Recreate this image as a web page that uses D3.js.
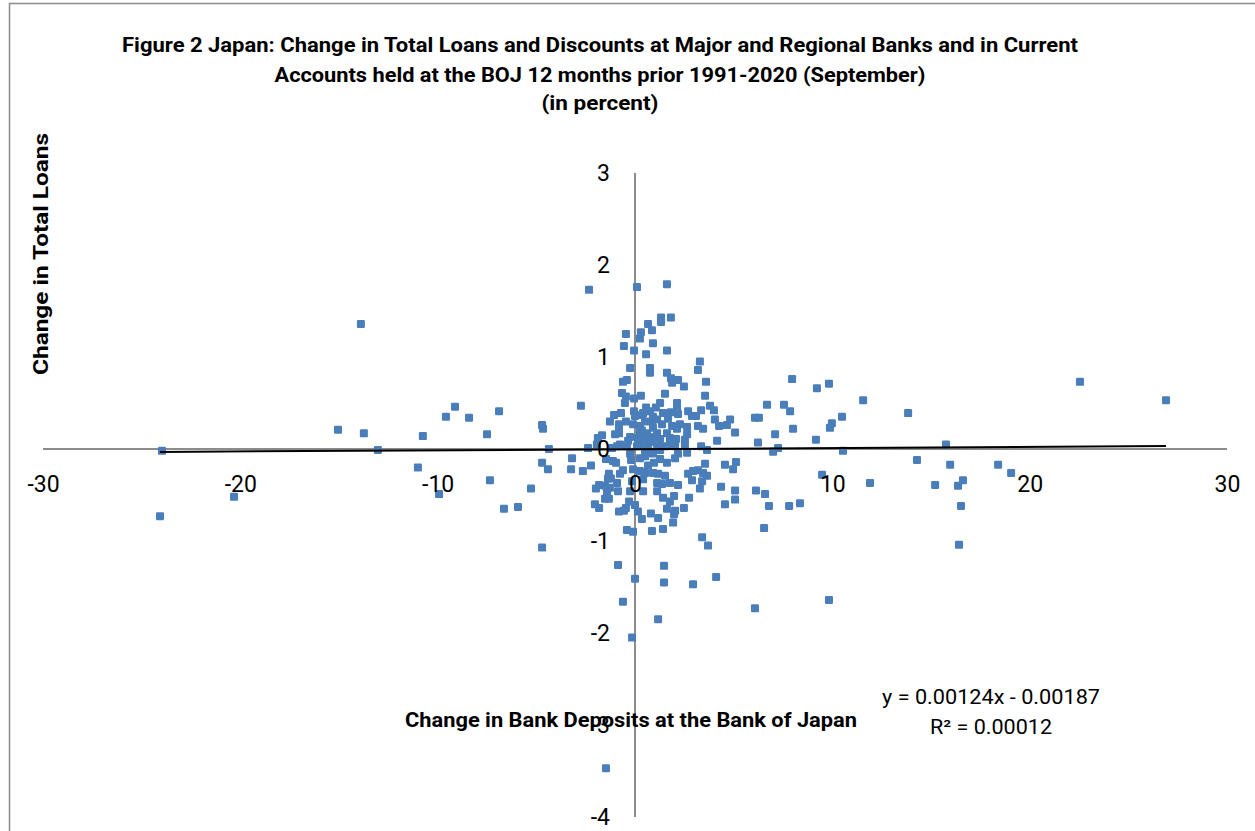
<!DOCTYPE html>
<html>
<head>
<meta charset="utf-8">
<script src="https://cdn.jsdelivr.net/npm/d3@7"></script>
<style>
  html, body { margin: 0; padding: 0; background: #fff; }
  svg { display: block; }
  text { font-family: "Roboto", "Liberation Sans", sans-serif; fill: #000; }
</style>
</head>
<body>
<svg id="chart" width="1255" height="831"></svg>
<script>
// ---- Data ----
const titleLines = [
  "Figure 2 Japan: Change in Total Loans and Discounts at Major and Regional Banks and in Current",
  "Accounts held at the BOJ 12 months prior 1991-2020 (September)",
  "(in percent)"
];
const xAxisTitle = "Change in Bank Deposits at the Bank of Japan";
const yAxisTitle = "Change in Total Loans";
const xTicks = [-30, -20, -10, 0, 10, 20, 30];
const yTicks = [-4, -3, -2, -1, 0, 1, 2, 3];
const trendSlope = 0.00124;
const trendIntercept = -0.00187;
const equationLines = ["y = 0.00124x - 0.00187", "R\u00B2 = 0.00012"];

// [change in deposits at BOJ, change in total loans]
const depositLoanPairs = [
  [-23.97,-0.02],[-24.07,-0.73],[-20.32,-0.52],[-15.05,0.21],[-13.89,1.36],[-13.74,0.17],[-13.03,-0.01],[-11.0,-0.20],[-10.75,0.14],[-9.93,-0.49],[-9.58,0.35],[-9.12,0.46],[-8.41,0.34],[-7.50,0.16],[-7.35,-0.34],[-6.89,0.41],[-6.64,-0.65],[-5.93,-0.63],[-5.27,-0.43],[-4.71,0.26],[-4.66,0.22],[-4.71,-0.15],[-4.41,-0.22],[-4.71,-1.07],[-4.36,0.0],[-3.19,-0.10],[-3.24,-0.22],[-2.74,0.47],[-2.64,-0.24],[-2.33,1.73],[-2.38,0.01],[-2.23,-0.18],
  [-1.98,-0.43],[-1.82,-0.39],[-1.88,0.12],[-1.67,0.15],[-1.93,0.05],[-1.47,-0.11],[-0.96,-0.15],[-1.32,-0.27],[-1.37,-0.32],[-1.22,-0.32],[-0.76,-0.27],[-0.61,-0.23],[-1.12,-0.13],[-1.52,-0.40],[-1.27,-0.42],[-1.42,-0.48],[-0.86,-0.46],[-0.91,-0.37],[-1.52,-0.54],[-1.32,-0.54],[-2.03,-0.60],[-1.82,-0.64],[-0.46,-0.64],[-0.56,-0.67],[-0.81,-0.68],[-0.30,-0.57],[-0.41,-0.88],[-0.10,-0.90],[-0.86,-1.26],[-0.61,-1.66],[-0.15,-2.05],[-1.47,-3.47],[-1.27,0.30],[-1.06,0.37],[-0.71,0.39],[-0.81,0.27],[-0.81,0.23],[-0.81,0.17],[-1.01,0.16],[-0.66,0.61],[-0.46,0.57],[-0.51,0.50],[-0.61,0.73],[-0.41,0.75],[-0.56,1.12],[-0.46,1.25],[-0.25,0.88],[-0.05,1.07],[-0.05,0.55],[-0.05,0.41],[-0.10,0.27],[-0.25,0.13],[-0.76,0.05],[-0.41,0.03],[-0.91,0.03],[-0.20,-0.12],[-0.25,-0.05],[-0.10,-0.22],[-0.25,-0.46],[0.0,-0.61],[0.15,-0.68],
  [0.10,1.76],[0.30,1.27],[0.25,1.20],[0.66,1.36],[0.86,1.29],[0.91,1.15],[0.56,1.03],[0.76,0.88],[0.76,0.83],[0.30,0.58],[0.56,0.45],[0.41,0.39],[0.76,0.41],[0.35,0.37],[0.91,0.35],[0.25,0.25],[0.51,0.30],[0.86,0.30],[1.12,0.32],[1.37,0.27],[0.91,0.23],[0.61,0.17],[0.25,0.17],[1.12,0.17],[0.15,0.12],[0.61,0.12],[0.41,0.09],[0.86,0.08],[1.27,0.11],[0.25,0.04],[0.66,0.05],[1.12,0.03],[1.52,0.03],[0.10,0.03],[1.77,0.05],[0.25,-0.10],[0.51,-0.08],[0.91,-0.05],[1.27,-0.11],[1.62,-0.15],[2.03,-0.10],[0.96,-0.15],[2.18,-0.05],[0.51,-0.26],[0.91,-0.26],[1.17,-0.27],[1.52,-0.29],[0.41,-0.33],[1.12,-0.37],[1.37,-0.38],[1.77,-0.37],[0.41,-0.46],[1.12,-0.46],[1.42,-0.53],[1.98,-0.51],[1.77,-0.57],[0.81,-0.70],[0.35,-0.76],[0.86,-0.89],[1.42,-0.87],[1.62,-0.65],[2.03,-0.67],[1.98,-0.71],[1.93,-0.80],[1.17,-0.75],[1.47,-1.27],[0.0,-1.41],[1.47,-1.45],[1.17,-1.85],[1.32,1.43],[1.32,1.38],[1.82,1.43],[1.62,1.79],[1.62,1.07],[1.62,0.83],[1.82,0.77],[1.88,0.72],[2.18,0.75],[1.52,0.60],[1.27,0.50],[1.06,0.45],[1.82,0.40],[1.88,0.25],[1.62,0.17],[1.77,0.12],[2.08,0.11],[2.13,0.50],[2.13,0.45],[2.18,0.38],[2.28,0.27],
  [2.48,0.68],[2.69,0.41],[2.89,0.36],[3.09,0.36],[2.64,0.24],[2.13,0.22],[3.19,0.25],[3.45,0.22],[2.64,0.16],[2.53,0.10],[2.53,0.04],[2.64,-0.04],[3.35,0.03],[3.65,-0.01],[4.16,0.09],[3.29,0.95],[3.19,0.86],[3.60,0.73],[3.55,0.58],[3.80,0.47],[4.00,0.42],[3.35,0.42],[4.05,0.32],[4.26,0.25],[4.66,0.26],[4.82,0.32],[5.07,0.18],[6.08,0.34],[6.28,0.34],[6.23,0.07],[6.69,0.48],[3.55,-0.16],[4.56,-0.17],[4.97,-0.22],[5.12,-0.14],[3.19,-0.23],[3.45,-0.26],[3.65,-0.29],[2.94,-0.24],[2.69,-0.27],[2.89,-0.34],[3.40,-0.35],[2.18,-0.39],[3.29,-0.43],[4.36,-0.41],[5.07,-0.45],[6.13,-0.45],[6.59,-0.49],[2.74,-0.53],[2.48,-0.64],[4.56,-0.60],[5.07,-0.55],[3.40,-0.96],[3.70,-1.05],[4.11,-1.39],[2.94,-1.47],[6.08,-1.73],[6.54,-0.86],[6.79,-0.62],[7.81,-0.62],[8.36,-0.59],[9.48,-0.28],[7.55,0.48],[7.86,0.41],[8.01,0.22],[7.10,0.16],[7.25,0.01],[7.00,-0.03],[7.96,0.76],[9.22,0.66],[9.83,0.71],[10.49,0.35],[9.98,0.28],[9.88,0.23],[9.17,0.10],[10.54,-0.02],[11.56,0.53],[11.91,-0.37],[13.84,0.39],[14.29,-0.12],[15.21,-0.39],[15.76,0.05],[15.97,-0.17],[16.37,-0.40],[16.62,-0.34],[16.52,-0.62],[16.42,-1.04],[18.40,-0.17],[19.06,-0.26],[22.55,0.73],[26.91,0.53],[9.83,-1.64],
  [-1.17,0.01],[0.51,-0.01],[1.27,-0.01],[-0.35,0.09],[1.01,0.13],[2.03,0.03],[0.35,0.20],[1.42,0.39],[1.67,0.33],[0.0,0.36],[-0.46,0.30],[0.25,-0.24],[0.66,-0.18],[-0.15,-0.35]
];

// ---- Chart ----
const svg = d3.select("#chart");
const x = d3.scaleLinear().domain([-30, 30]).range([43, 1227]);
const y = d3.scaleLinear().domain([-4, 3]).range([817, 173]);

// chart area border (Excel frame)
svg.append("path")
  .attr("d", "M9.5,831 L9.5,3.5 L1255,3.5")
  .attr("fill", "none").attr("stroke", "#8c8c8c").attr("stroke-width", 1.5);

// title
const titleY = [52, 82, 110];
const titleLen = [956, 651, 117];
titleLines.forEach((t, i) => {
  svg.append("text")
    .attr("x", 600).attr("y", titleY[i])
    .attr("text-anchor", "middle")
    .attr("font-size", 20).attr("font-weight", "bold")
    .attr("textLength", titleLen[i]).attr("lengthAdjust", "spacingAndGlyphs")
    .text(t);
});

// axis lines
svg.append("line")
  .attr("x1", x(-30)).attr("x2", x(30)).attr("y1", y(0)).attr("y2", y(0))
  .attr("stroke", "#8c8c8c").attr("stroke-width", 2);
svg.append("line")
  .attr("x1", x(0)).attr("x2", x(0)).attr("y1", y(3)).attr("y2", y(-4))
  .attr("stroke", "#8c8c8c").attr("stroke-width", 2);

// points
svg.append("g").selectAll("rect")
  .data(depositLoanPairs)
  .join("rect")
  .attr("x", d => x(d[0]) - 4)
  .attr("y", d => y(d[1]) - 4)
  .attr("width", 8).attr("height", 8)
  .attr("rx", 1.2)
  .attr("fill", "#4a7ebb");

// trendline
const xExt = d3.extent(depositLoanPairs, d => d[0]);
svg.append("line")
  .attr("x1", x(xExt[0])).attr("y1", y(trendSlope * xExt[0] + trendIntercept))
  .attr("x2", x(xExt[1])).attr("y2", y(trendSlope * xExt[1] + trendIntercept))
  .attr("stroke", "#000").attr("stroke-width", 2);

// axes labels via d3 axes
const xAxis = d3.axisBottom(x).tickValues(xTicks).tickSize(0).tickPadding(27)
  .tickFormat(d => String(d));
const gx = svg.append("g").attr("transform", `translate(0,${y(0)})`).call(xAxis);
gx.select(".domain").remove();
gx.selectAll("text").attr("font-size", 23).attr("font-family", "Roboto, sans-serif").attr("fill", "#000");

const yAxis = d3.axisLeft(y).tickValues(yTicks).tickSize(0).tickPadding(25)
  .tickFormat(d => String(d));
const gy = svg.append("g").attr("transform", `translate(${x(0)},0)`).call(yAxis);
gy.select(".domain").remove();
gy.selectAll("text").attr("font-size", 23).attr("font-family", "Roboto, sans-serif").attr("fill", "#000");

// axis titles
svg.append("text")
  .attr("transform", "translate(48,254) rotate(-90)")
  .attr("text-anchor", "middle")
  .attr("font-size", 21).attr("font-weight", "bold")
  .attr("textLength", 242).attr("lengthAdjust", "spacingAndGlyphs")
  .text(yAxisTitle);

svg.append("text")
  .attr("x", 631).attr("y", 727)
  .attr("text-anchor", "middle")
  .attr("font-size", 20).attr("font-weight", "bold")
  .attr("textLength", 452).attr("lengthAdjust", "spacingAndGlyphs")
  .text(xAxisTitle);

// equation
const eqY = [704, 734];
const eqLen = [218, 122];
equationLines.forEach((t, i) => {
  svg.append("text")
    .attr("x", 991).attr("y", eqY[i])
    .attr("text-anchor", "middle")
    .attr("font-size", 20)
    .attr("textLength", eqLen[i]).attr("lengthAdjust", "spacingAndGlyphs")
    .text(t);
});
</script>
</body>
</html>
